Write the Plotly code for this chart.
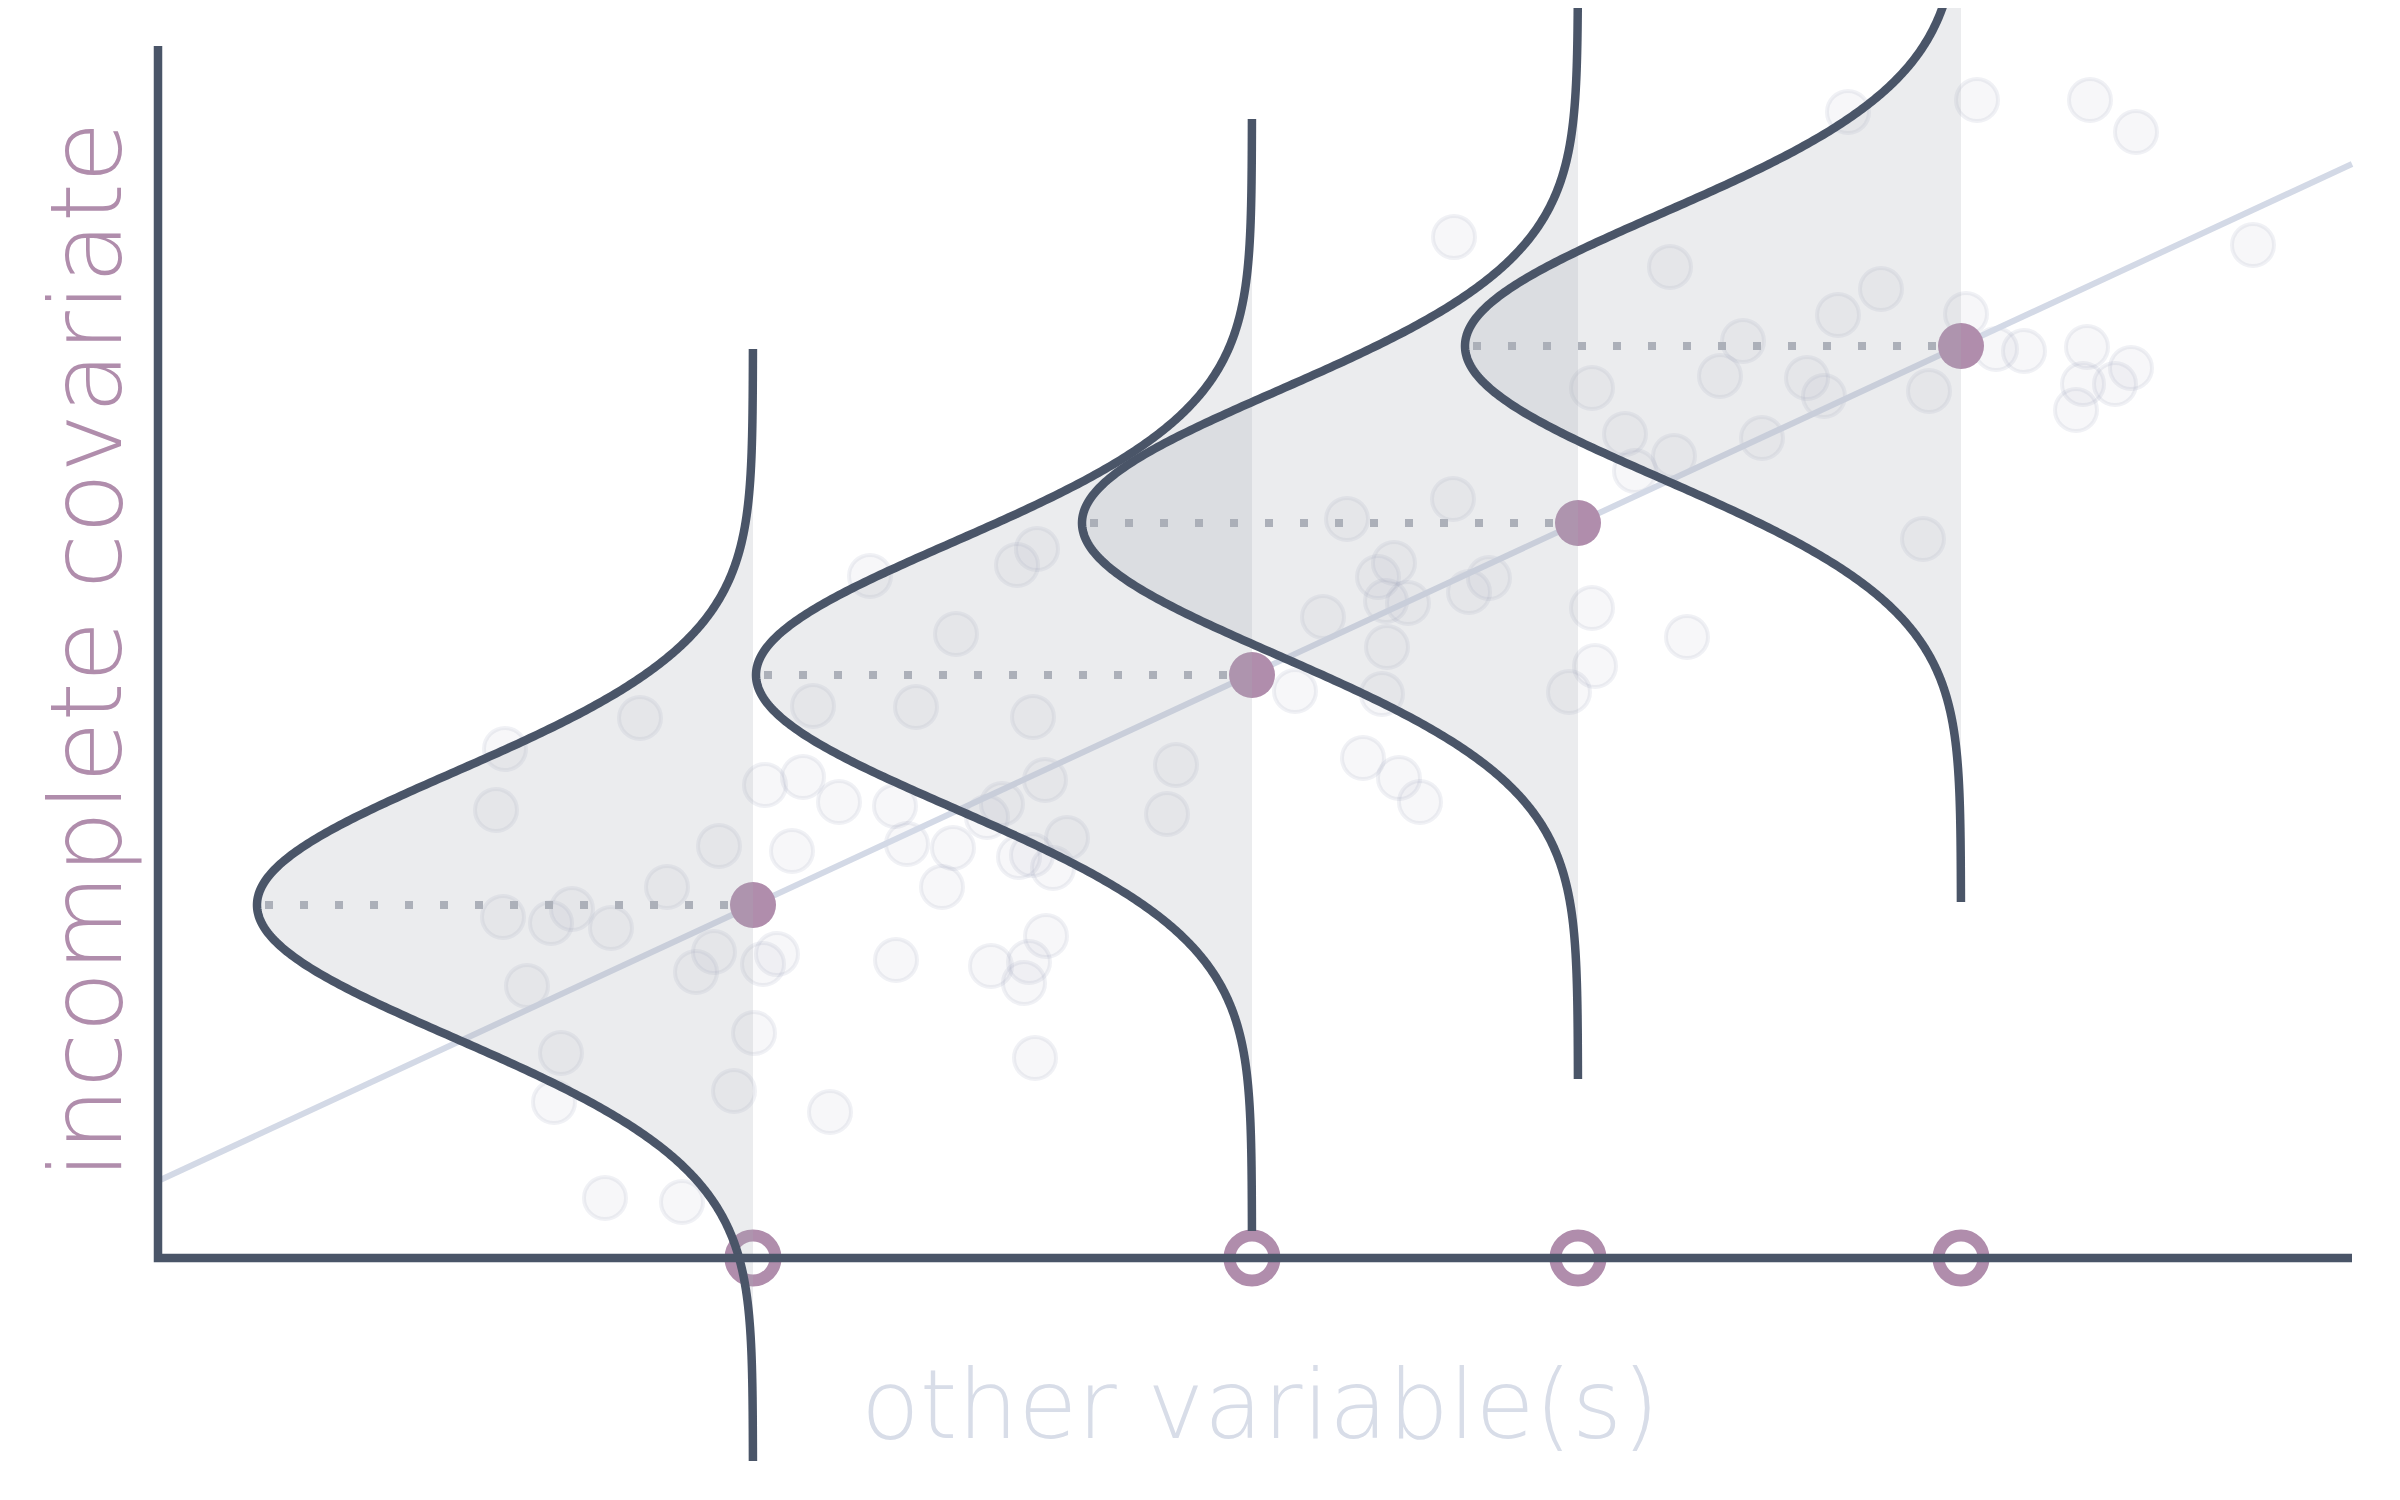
import numpy as np
import plotly.graph_objects as go

# ---- data (units: x along "other variable(s)", y along "incomplete covariate") ----
centers_x = [5.95, 10.94, 14.20, 18.03]          # x positions of conditional densities
centers_y = [3.53, 5.83, 7.35, 9.12]             # predicted values (purple dots)
density_amp = 4.96                               # horizontal height of each density
density_sd = 1.32                                # spread of each density (y units)
density_extent = 5.56                            # drawn half-range of each density

reg_x = [0.0, 21.94]                             # regression line end points
reg_y = [0.77, 10.94]

axis_x_end = 21.94
axis_y_end = 12.12

pts_x = [4.82, 3.47, 3.38, 5.61, 5.09, 3.45, 3.93, 4.14, 4.53, 5.56, 5.38, 3.69, 4.03,
         5.76, 3.96, 4.47, 5.24, 5.96, 6.05, 6.19, 7.38, 6.72, 8.77, 8.33, 8.71, 8.66,
         8.88, 6.34, 6.07, 6.45, 6.81, 7.37, 7.49, 7.95, 7.84, 8.29, 8.44, 8.87, 8.61,
         8.74, 8.95, 9.09, 6.55, 7.58, 8.75, 7.98, 7.12, 8.59, 8.79, 11.65, 12.29, 14.37,
         14.11, 12.24, 11.37, 12.05, 12.41, 12.62, 10.18, 10.09, 12.96, 15.12, 14.34,
         14.67, 15.16, 14.77, 12.95, 11.89, 12.36, 12.20, 12.28, 12.50, 13.31, 13.11,
         14.34, 15.29, 16.90, 18.19, 19.32, 19.78, 20.95, 17.23, 16.80, 15.85, 18.08,
         15.62, 16.49, 16.66, 17.71, 16.04, 18.38, 18.66, 19.29, 19.73, 19.25, 19.57,
         19.18, 17.65]
pts_y = [5.40, 5.09, 4.48, 4.12, 3.71, 3.41, 3.35, 3.49, 3.30, 3.06, 2.86, 2.72, 2.05,
         1.67, 1.56, 0.60, 0.56, 2.25, 2.94, 3.04, 2.98, 1.46, 2.00, 2.92, 2.96, 2.75,
         3.22, 4.07, 4.73, 4.81, 4.56, 4.52, 4.14, 4.10, 3.71, 4.41, 4.54, 4.78, 4.01,
         4.03, 3.90, 4.20, 5.52, 5.51, 5.41, 6.24, 6.82, 6.93, 7.09, 6.41, 6.11, 5.92,
         5.66, 5.64, 5.67, 5.00, 4.80, 4.56, 4.93, 4.44, 10.21, 9.91, 8.70,
         8.24, 8.02, 7.87, 7.59, 7.39, 6.95, 6.81, 6.57, 6.55, 6.80, 6.66,
         6.50, 6.21, 11.46, 11.58, 11.58, 11.26, 10.13, 9.69, 9.43, 9.17, 9.44,
         8.82, 8.80, 8.62, 8.67, 8.20, 9.09, 9.07, 9.11, 8.90, 8.74, 8.74,
         8.48, 7.19]

x_title = "other variable(s)"
y_title = "incomplete covariate"

# ---- colours ----
SLATE = "#4a5568"
PURPLE = "#b08dac"
REG = "#d3d9e6"
FILL = "rgba(168,172,181,0.23)"
DOTLINE = "#aeb2ba"

# page has an 8px body margin; figure sized to fit the window
W, H = 2384, 1484
OFF = 8


def px_x(p):
    return (p - OFF) / W


def px_y(p):
    return 1 - (p - OFF) / H


fig = go.Figure()

# faint scatter
fig.add_trace(go.Scatter(
    x=pts_x, y=pts_y, mode="markers",
    marker=dict(size=42, color="rgba(150,158,182,0.08)",
                line=dict(color="rgba(150,158,182,0.14)", width=4)),
    hoverinfo="skip"))

# regression line
fig.add_trace(go.Scatter(x=reg_x, y=reg_y, mode="lines",
                         line=dict(color=REG, width=6), hoverinfo="skip"))

# dotted guide lines from density peak to predicted value
for cx, cy in zip(centers_x, centers_y):
    fig.add_trace(go.Scatter(x=[cx - density_amp + 0.08, cx], y=[cy, cy], mode="lines",
                             line=dict(color=DOTLINE, width=8, dash="8px,27px"),
                             hoverinfo="skip"))

# predicted values
fig.add_trace(go.Scatter(x=centers_x, y=centers_y, mode="markers",
                         marker=dict(size=46, color=PURPLE, line=dict(width=0)),
                         hoverinfo="skip"))

# rings on x axis
fig.add_trace(go.Scatter(x=centers_x, y=[0] * len(centers_x), mode="markers",
                         marker=dict(size=45, color="white",
                                     line=dict(color=PURPLE, width=12)),
                         hoverinfo="skip"))

# densities
dy = np.linspace(-density_extent, density_extent, 601)
for cx, cy in zip(centers_x, centers_y):
    cxs = cx - density_amp * np.exp(-0.5 * (dy / density_sd) ** 2)
    ys = cy + dy
    fx = np.concatenate([cxs, [cx, cx]])
    fy = np.concatenate([ys, [ys[-1], ys[0]]])
    fig.add_trace(go.Scatter(x=fx, y=fy, mode="lines", fill="toself",
                             fillcolor=FILL, line=dict(width=0, simplify=False),
                             hoverinfo="skip"))
for cx, cy in zip(centers_x, centers_y):
    cxs = cx - density_amp * np.exp(-0.5 * (dy / density_sd) ** 2)
    fig.add_trace(go.Scatter(x=cxs, y=cy + dy, mode="lines",
                             line=dict(color=SLATE, width=8.5, simplify=False),
                             hoverinfo="skip"))

# axes
fig.add_trace(go.Scatter(x=[0, 0, axis_x_end], y=[axis_y_end, 0, 0], mode="lines",
                         line=dict(color=SLATE, width=8.5), hoverinfo="skip"))

fig.add_annotation(text=y_title, textangle=-90, showarrow=False,
                   xref="paper", yref="paper", x=px_x(86), y=px_y(650),
                   xanchor="center", yanchor="middle",
                   font=dict(family="DejaVu Sans", size=100, color=PURPLE, weight=200))
fig.add_annotation(text=x_title, showarrow=False,
                   xref="paper", yref="paper", x=px_x(1260), y=px_y(1405),
                   xanchor="center", yanchor="middle",
                   font=dict(family="DejaVu Sans", size=96, color="#d8dde8", weight=200))

fig.update_layout(
    width=W, height=H, margin=dict(l=0, r=0, t=0, b=0),
    paper_bgcolor="white", plot_bgcolor="white", showlegend=False,
    xaxis=dict(visible=False, range=[-1.50, -1.50 + W / 100], fixedrange=True),
    yaxis=dict(visible=False, range=[12.50 - H / 100, 12.50], fixedrange=True),
)

fig.write_html("out.html", config={"displayModeBar": False})
